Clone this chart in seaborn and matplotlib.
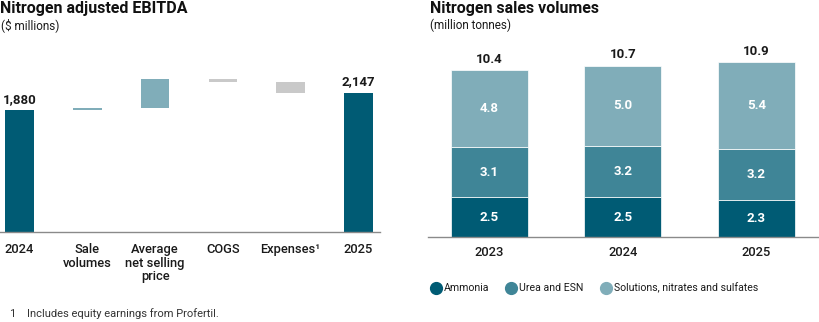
import matplotlib
matplotlib.use("Agg")
import matplotlib.pyplot as plt
import seaborn as sns
import numpy as np
from matplotlib.lines import Line2D

sns.set_style("white")
plt.rcParams['font.family'] = ['Roboto', 'DejaVu Sans']

# ---- Data: waterfall (left) ----
wf_categories = ["2024", "Sale\nvolumes", "Average\nnet selling\nprice", "COGS", "Expenses\u00b9", "2025"]
wf_start = 1880
wf_changes = [30, 450, -45, -168]
wf_end = 2147
wf_value_labels = ["1,880", "2,147"]

# ---- Data: stacked volumes (right) ----
years = ["2023", "2024", "2025"]
ammonia = [2.5, 2.5, 2.3]
urea_esn = [3.1, 3.2, 3.2]
solutions = [4.8, 5.0, 5.4]
totals = [10.4, 10.7, 10.9]
series_names = ["Ammonia", "Urea and ESN", "Solutions, nitrates and sulfates"]

DARK = "#005b74"
MID = "#3f8597"
LIGHT = "#80adb9"
GREY = "#c9c9c9"
TXT = "#1a1a1a"

W, H = 820, 322
fig = plt.figure(figsize=(W/100, H/100), dpi=100)

def fx(px): return px / W
def fy(py): return 1 - py / H

# ---------- Left waterfall ----------
axL = fig.add_axes([0, fy(232), fx(380), (232-40)/H])
for i, val, lab in [(0, wf_start, wf_value_labels[0]), (5, wf_end, wf_value_labels[1])]:
    sns.barplot(x=[wf_categories[i]], y=[val], order=wf_categories, color=DARK,
                width=0.42, saturation=1, ax=axL, linewidth=0)
    axL.text(i, val + 70, lab, ha="center", va="bottom", fontsize=9.5,
             fontweight="bold", color=TXT)
level = wf_start
for j, ch in enumerate(wf_changes):
    cat = wf_categories[j + 1]
    col = LIGHT if ch > 0 else GREY
    bottom = level if ch > 0 else level + ch
    sns.barplot(x=[cat], y=[abs(ch)], bottom=bottom, order=wf_categories, color=col,
                width=0.42, saturation=1, ax=axL, linewidth=0)
    level += ch

axL.set_ylim(0, 192/0.0648)
axL.set_xlim(-0.29, 5.32)
axL.set_yticks([])
axL.set_xlabel("")
axL.set_ylabel("")
for s in ["top", "right", "left"]:
    axL.spines[s].set_visible(False)
axL.spines["bottom"].set_color("#8a8a8a")
axL.spines["bottom"].set_linewidth(1.0)
axL.tick_params(axis="x", length=0, pad=8, labelsize=9.3, labelcolor=TXT)
axL.set_xticks(range(len(wf_categories)))
axL.set_xticklabels(wf_categories, linespacing=1.05, va="top", fontweight="medium")

# ---------- Right stacked bars ----------
axR = fig.add_axes([fx(428), fy(237.3), fx(392), (237.3-40)/H])
stack = [ammonia, urea_esn, solutions]
colors = [DARK, MID, LIGHT]
bottom = np.zeros(len(years))
for vals, col in zip(stack, colors):
    vals = np.array(vals)
    sns.barplot(x=years, y=vals, bottom=bottom, color=col, width=0.577,
                saturation=1, ax=axR, edgecolor="white", linewidth=0.5)
    for k, (v, b) in enumerate(zip(vals, bottom)):
        axR.text(k, b + v/2, f"{v:.1f}", ha="center", va="center", color="white",
                 fontsize=9.5, fontweight="bold")
    bottom = bottom + vals
for k, t in enumerate(totals):
    axR.text(k, bottom[k] + 0.3, f"{t:.1f}", ha="center", va="bottom", fontsize=9.5,
             fontweight="bold", color=TXT)

axR.set_ylim(0, 197.3/16.05)
axR.set_xlim(-0.46, 2.476)
axR.set_yticks([])
axR.set_xlabel("")
axR.set_ylabel("")
for s in ["top", "right", "left"]:
    axR.spines[s].set_visible(False)
axR.spines["bottom"].set_color("#8a8a8a")
axR.spines["bottom"].set_linewidth(1.0)
axR.tick_params(axis="x", length=0, pad=6, labelsize=9.3, labelcolor=TXT)
for t in axR.get_xticklabels():
    t.set_fontweight("medium")

# legend
handles = [Line2D([0], [0], marker="o", linestyle="", markersize=8.5,
                  markerfacecolor=c, markeredgecolor=c) for c in colors]
fig.legend(handles, series_names, loc="center left", bbox_to_anchor=(fx(420), fy(288)),
           ncol=3, frameon=False, fontsize=7.6, handletextpad=0.15, columnspacing=1.5,
           handlelength=1.2, labelcolor=TXT)

# titles
fig.text(fx(0), fy(8), "Nitrogen adjusted EBITDA", fontsize=11.5, fontweight="bold",
         ha="left", va="center", color="#111111")
fig.text(fx(1), fy(25), "($ millions)", fontsize=8.5, ha="left", va="center", color=TXT)
fig.text(fx(430), fy(8), "Nitrogen sales volumes", fontsize=11.5, fontweight="bold",
         ha="left", va="center", color="#111111")
fig.text(fx(430), fy(25), "(million tonnes)", fontsize=8.5, ha="left", va="center", color=TXT)

# footnote
fig.text(fx(9), fy(314), "1", fontsize=8, ha="left", va="center", color="#333333")
fig.text(fx(27), fy(314), "Includes equity earnings from Profertil.", fontsize=8,
         ha="left", va="center", color="#333333")

fig.savefig("out.png", dpi=100)
